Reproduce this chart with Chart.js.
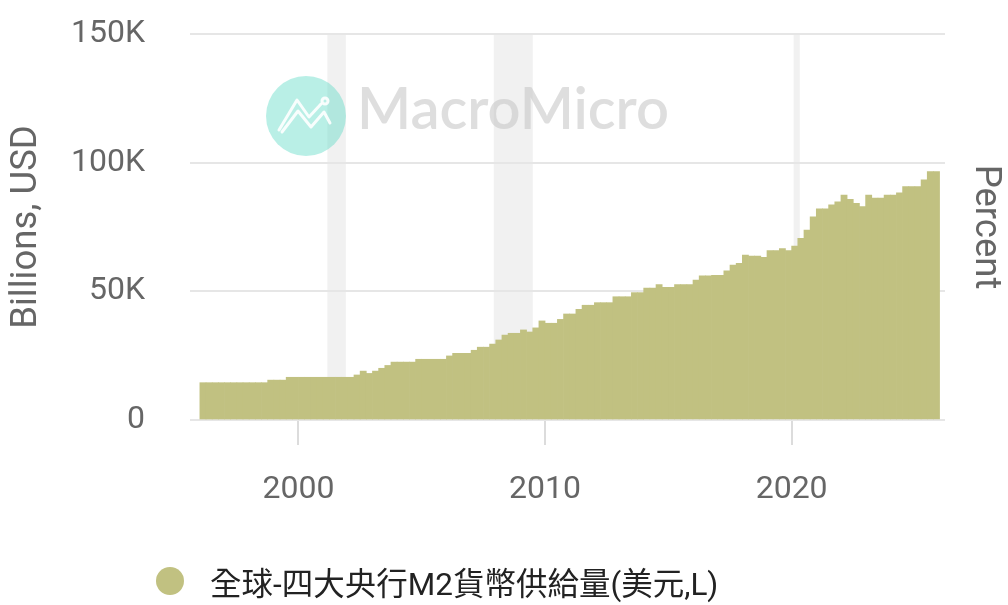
<!DOCTYPE html>
<html>
<head>
<meta charset="utf-8">
<script src="https://cdn.jsdelivr.net/npm/chart.js@4"></script>
<style>
  html, body { margin: 0; padding: 0; background: #fff; }
  #wrap { position: relative; width: 1008px; height: 605px; }
  #legend { position: absolute; left: 156px; top: 562px; height: 38px; display: flex; align-items: center;
    font-family: Roboto, "Noto Sans CJK TC", sans-serif; font-size: 31.5px; color: #222; white-space: nowrap; }
  #legend .dot { width: 28px; height: 28px; border-radius: 50%; background: #c1c181; margin-right: 26px; }
</style>
</head>
<body>
<div id="wrap">
  <canvas id="m2Chart" width="1008" height="605"></canvas>
  <div id="legend"><span class="dot"></span><span>全球-四大央行M2貨幣供給量(美元,L)</span></div>
</div>
<script>
// quarterly values, Billions USD, starting 1996 Q1
let startYear = 1996;
let m2Values = [
  14500, 14500, 14500, 14500,  // 1996
  14500, 14500, 14500, 14500,  // 1997
  14500, 14500, 14500, 15500,  // 1998
  15500, 15500, 16600, 16600,  // 1999
  16600, 16600, 16600, 16600,  // 2000
  16600, 16600, 16600, 16600,  // 2001
  16600, 17500, 19000, 18100,  // 2002
  19000, 20100, 21200, 22500,  // 2003
  22500, 22500, 22500, 23600,  // 2004
  23600, 23600, 23600, 23600,  // 2005
  24900, 25900, 25900, 25900,  // 2006
  27100, 28300, 28300, 29500,  // 2007
  31100, 33000, 33700, 33700,  // 2008
  35000, 34200, 35800, 38500,  // 2009
  37600, 37600, 39100, 41200,  // 2010
  41200, 43000, 44600, 44600,  // 2011
  45600, 45600, 45600, 47900,  // 2012
  47900, 47900, 49500, 49500,  // 2013
  51300, 51300, 52600, 51600,  // 2014
  51600, 52600, 52600, 52600,  // 2015
  54400, 56000, 56000, 56200,  // 2016
  56200, 58000, 60200, 60900,  // 2017
  64100, 63700, 63700, 63200,  // 2018
  65800, 65800, 66600, 65800,  // 2019
  67600, 70600, 73800, 79000,  // 2020
  82100, 82100, 83600, 84800,  // 2021
  87400, 85800, 84200, 82900,  // 2022
  87400, 86200, 86200, 87400,  // 2023
  87400, 88300, 90700, 90700,  // 2024
  90700, 93300, 96500, 96500   // 2025
];
let recessions = [[2001.17, 2001.92], [2007.92, 2009.5], [2020.08, 2020.33]];
let yearTicks = [2000, 2010, 2020];
let valueTicks = [0, 50000, 100000, 150000];

let points = m2Values.map((v, i) => ({ x: startYear + i * 0.25 + 0.125, y: v }));

Chart.defaults.font.family = 'Roboto';

// grey recession bands + MacroMicro watermark behind everything
let backdrop = {
  id: 'backdrop',
  beforeDraw(chart) {
    let ctx = chart.ctx;
    let area = chart.chartArea;
    let xs = chart.scales.x;
    ctx.save();
    ctx.fillStyle = '#f1f1f1';
    recessions.forEach(r => {
      let x0 = xs.getPixelForValue(r[0]);
      let x1 = xs.getPixelForValue(r[1]);
      ctx.fillRect(x0, area.top, x1 - x0, area.bottom - area.top);
    });

    // logo
    ctx.fillStyle = 'rgba(100, 220, 200, 0.45)';
    ctx.beginPath();
    ctx.arc(306, 116, 40, 0, Math.PI * 2);
    ctx.fill();
    ctx.strokeStyle = 'rgba(255,255,255,0.9)';
    ctx.lineWidth = 3;
    ctx.lineJoin = 'round';
    ctx.lineCap = 'round';
    ctx.beginPath();
    ctx.moveTo(279, 130); ctx.lineTo(297, 100); ctx.lineTo(309, 117); ctx.lineTo(321, 104);
    ctx.moveTo(282, 132); ctx.lineTo(298, 111); ctx.lineTo(311, 127); ctx.lineTo(324, 112); ctx.lineTo(330, 123);
    ctx.stroke();
    ctx.beginPath();
    ctx.arc(325, 101, 3, 0, Math.PI * 2);
    ctx.stroke();

    // text
    let size = 52;
    ctx.font = '600 ' + size + 'px Lato';
    let w = ctx.measureText('MacroMicro').width;
    size = size * 312 / w;
    ctx.font = '600 ' + size + 'px Lato';
    ctx.fillStyle = 'rgba(200,200,200,0.6)';
    ctx.textBaseline = 'alphabetic';
    ctx.fillText('MacroMicro', 357, 129);
    ctx.restore();
  }
};

function noPad(s) {
  s.paddingTop = 0;
  s.paddingBottom = 0;
  s.paddingLeft = 0;
  s.paddingRight = 0;
}

let ctx = document.getElementById('m2Chart');
let m2Chart = new Chart(ctx, {
  type: 'bar',
  data: {
    datasets: [{
      label: '全球-四大央行M2貨幣供給量(美元,L)',
      data: points,
      backgroundColor: '#c1c181',
      borderWidth: 0,
      barPercentage: 1,
      categoryPercentage: 1
    }]
  },
  options: {
    responsive: false,
    animation: false,
    layout: { padding: { top: 34, left: 0, right: 0, bottom: 0 } },
    plugins: {
      legend: { display: false },
      tooltip: { enabled: false }
    },
    scales: {
      x: {
        type: 'linear',
        offset: false,
        min: 1995.6,
        max: 2026.22,
        afterBuildTicks: s => { s.ticks = yearTicks.map(v => ({ value: v })); },
        afterFit: s => { s.height = 185; noPad(s); },
        grid: { offset: false, drawOnChartArea: false, drawTicks: true, tickLength: 25, color: '#dcdcdc', lineWidth: 2 },
        border: { display: false },
        ticks: {
          padding: 26, color: '#666', font: { size: 32 }, maxRotation: 0,
          callback: v => String(v)
        }
      },
      y: {
        min: 0,
        max: 150000,
        afterBuildTicks: s => { s.ticks = valueTicks.map(v => ({ value: v })); },
        afterFit: s => { s.width = 190; noPad(s); },
        grid: { color: '#e6e6e6', lineWidth: 2, drawTicks: false },
        border: { display: false },
        ticks: {
          padding: 45, color: '#666', font: { size: 32 },
          callback: v => v === 0 ? '0' : (v / 1000) + 'K'
        },
        title: { display: true, text: 'Billions, USD', color: '#666', font: { size: 36.5 }, padding: { top: 5, bottom: 0 } }
      },
      y2: {
        position: 'right',
        afterFit: s => { s.width = 63; noPad(s); },
        grid: { display: false },
        border: { display: false },
        ticks: { display: false },
        title: { display: true, text: 'Percent', color: '#666', font: { size: 36.5 }, padding: { top: 1, bottom: 0 } }
      }
    }
  },
  plugins: [backdrop]
});
</script>
</body>
</html>
